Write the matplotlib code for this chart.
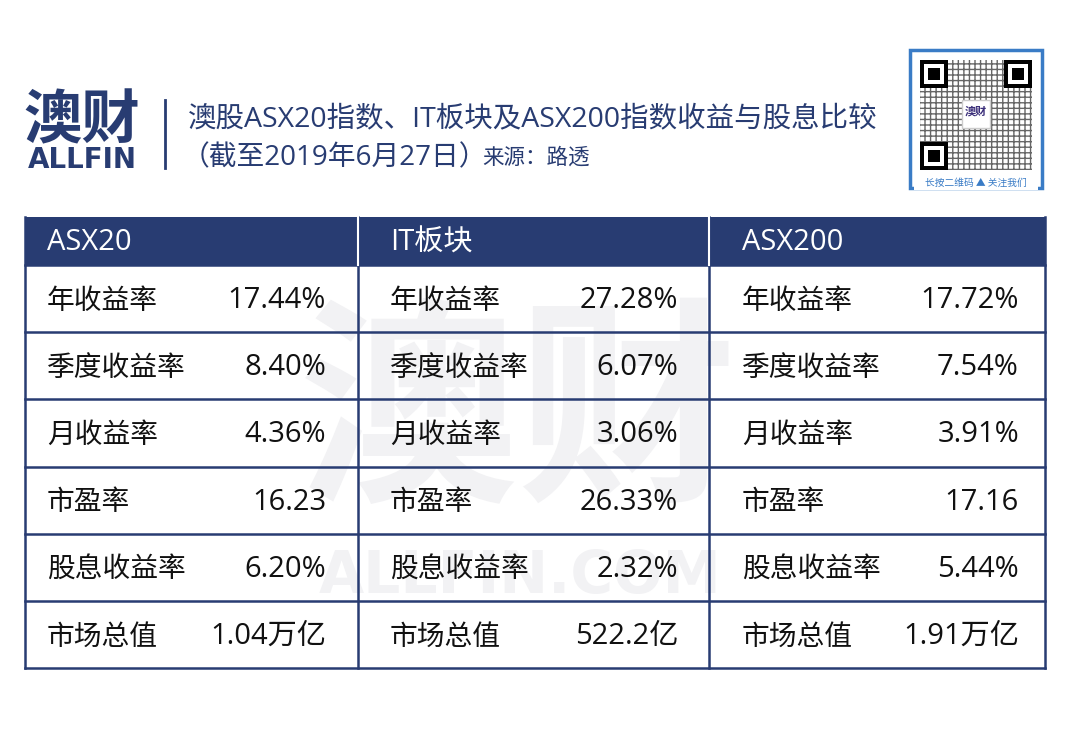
import matplotlib.pyplot as plt
from matplotlib.patches import Rectangle

plt.rcParams['font.family'] = ['Noto Sans CJK SC', 'DejaVu Sans']
latin = ['Open Sans', 'Noto Sans CJK SC']

# table data
groups = ['ASX20', 'IT板块', 'ASX200']
metrics = ['年收益率', '季度收益率', '月收益率', '市盈率', '股息收益率', '市场总值']
asx20 = ['17.44%', '8.40%', '4.36%', '16.23', '6.20%', '1.04万亿']
it_sector = ['27.28%', '6.07%', '3.06%', '26.33%', '2.32%', '522.2亿']
asx200 = ['17.72%', '7.54%', '3.91%', '17.16', '5.44%', '1.91万亿']
columns = [asx20, it_sector, asx200]

title = '澳股ASX20指数、IT板块及ASX200指数收益与股息比较'
subtitle = '（截至2019年6月27日）'
source = '来源：路透'

navy = '#283c72'
W, H = 1067, 733

fig = plt.figure(figsize=(W / 100, H / 100), dpi=100)
ax = fig.add_axes([0, 0, 1, 1])
ax.set_xlim(0, W)
ax.set_ylim(H, 0)
ax.axis('off')

# watermark behind the table
ax.text(518, 420, '澳财', fontsize=158, fontweight='bold', color='#f2f2f4',
        ha='center', va='center', zorder=1)
ax.text(520, 576, 'ALLFIN.COM', fontsize=42, fontweight='bold', color='#f2f2f4',
        ha='center', va='center', zorder=1, family='DejaVu Sans')

# logo + title
ax.text(82, 121, '澳财', fontsize=42, fontweight='black', color=navy,
        ha='center', va='center')
ax.text(82, 160, 'ALLFIN', fontsize=20, fontweight='bold', color=navy,
        ha='center', va='center', family='DejaVu Sans')
ax.plot([165, 165], [100, 168], color=navy, lw=2)
ax.text(188, 119, title, fontsize=20.5, color=navy, ha='left', va='center',
        family=latin)
ax.text(182, 158, subtitle, fontsize=20, color=navy, ha='left', va='center',
        family=latin)
ax.text(482, 158, source, fontsize=15.5, color=navy, ha='left', va='center')

# qr code placeholder box
qr_blue = '#3a7cc6'
ax.add_patch(Rectangle((910, 50), 132, 138, fill=False, ec=qr_blue, lw=2.5))
ax.add_patch(Rectangle((920, 60), 112, 110, fc='white', ec='#666666', hatch='+++',
                       lw=0, zorder=2))
for (qx, qy) in [(920, 60), (1004, 60), (920, 142)]:
    ax.add_patch(Rectangle((qx, qy), 28, 28, fc='black', ec='none', zorder=3))
    ax.add_patch(Rectangle((qx + 4, qy + 4), 20, 20, fc='white', ec='none', zorder=3))
    ax.add_patch(Rectangle((qx + 8, qy + 8), 12, 12, fc='black', ec='none', zorder=3))
ax.add_patch(Rectangle((962, 100), 28, 28, fc='white', ec='#cccccc', zorder=3))
ax.text(976, 111, '澳财', fontsize=8, fontweight='bold', color='#3b2f7a',
        ha='center', va='center', zorder=4)
ax.add_patch(Rectangle((914, 176), 124, 14, fc='white', ec='none', zorder=3))
ax.text(976, 183, '长按二维码 ▲ 关注我们', fontsize=7, color=qr_blue,
        ha='center', va='center', zorder=4, family=['Noto Sans CJK SC', 'DejaVu Sans'])

# table geometry
left, right = 25, 1045
col_x = [25, 358, 709, 1045]
head_top, head_bot = 217, 265
row_h = (668 - head_bot) / len(metrics)

ax.add_patch(Rectangle((left, head_top), right - left, head_bot - head_top,
                       fc=navy, ec='none', zorder=2))
label_off = [22, 32, 33]
val_right = [326, 678, 1019]
for j, g in enumerate(groups):
    ax.text(col_x[j] + label_off[j], (head_top + head_bot) / 2 + 2, g,
            fontsize=21, color='white', ha='left', va='center', zorder=3,
            family=latin)
    for i, m in enumerate(metrics):
        yc = head_bot + row_h * (i + 0.5) + 2
        ax.text(col_x[j] + label_off[j], yc, m, fontsize=20, color='#111111',
                ha='left', va='center', zorder=3)
        ax.text(val_right[j], yc, columns[j][i], fontsize=21, color='#111111',
                ha='right', va='center', zorder=3, family=latin)

# grid lines
for i in range(len(metrics) + 1):
    y = head_bot + row_h * i
    ax.plot([left, right], [y, y], color=navy, lw=1.8, zorder=4)
for x in col_x:
    ax.plot([x, x], [head_top, 668], color=navy, lw=1.8, zorder=4)
ax.plot([358, 358], [head_top, head_bot], color='white', lw=1.5, zorder=4)
ax.plot([709, 709], [head_top, head_bot], color='white', lw=1.5, zorder=4)

fig.savefig('out.png', dpi=100)
